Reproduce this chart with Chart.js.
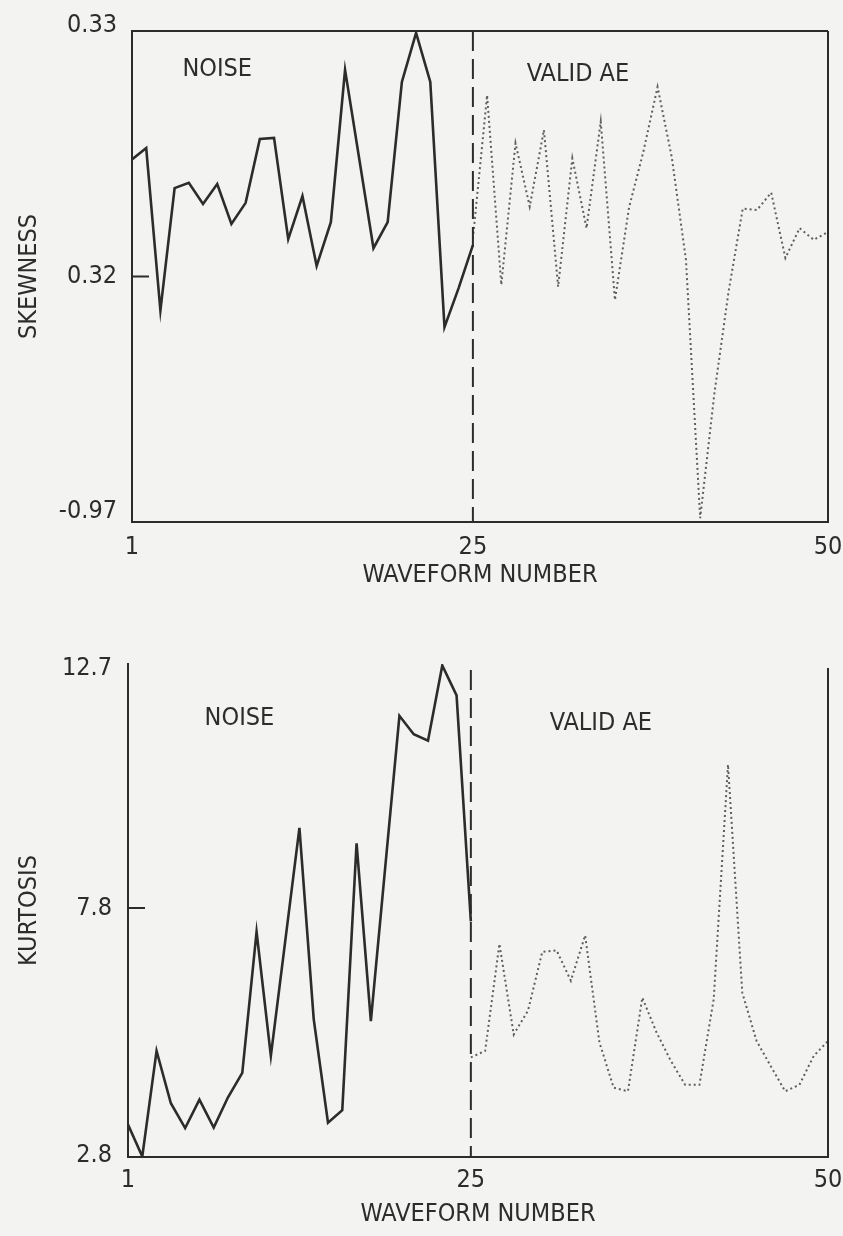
<!DOCTYPE html>
<html>
<head>
<meta charset="utf-8">
<script src="https://cdn.jsdelivr.net/npm/chart.js@4.4.1/dist/chart.umd.min.js"></script>
<style>
  html, body { margin: 0; padding: 0; background: #f3f3f1; }
  #wrap { position: relative; width: 843px; height: 1236px; overflow: hidden; }
  canvas { position: absolute; left: 0; }
  #skewChart { top: 0; }
  #kurtChart { top: 600px; }
</style>
</head>
<body>
<div id="wrap">
  <canvas id="skewChart" width="843" height="600"></canvas>
  <canvas id="kurtChart" width="843" height="636"></canvas>
</div>
<script>
// waveform numbers
const noiseWaveforms = [1, 2, 3, 4, 5, 6, 7, 8, 9, 10, 11, 12, 13, 14, 15, 16, 17, 18, 19, 20, 21, 22, 23, 24, 25];
const validWaveforms = [25, 26, 27, 28, 29, 30, 31, 32, 33, 34, 35, 36, 37, 38, 39, 40, 41, 42, 43, 44, 45, 46, 47, 48, 49, 50];

// skewness (scale runs -0.97 .. 0.33)
const skewNoise = [-0.01, 0.02, -0.41, -0.086, -0.072, -0.128, -0.075, -0.181, -0.125, 0.044, 0.047, -0.221, -0.107,
                   -0.292, -0.176, 0.227, -0.009, -0.245, -0.176, 0.195, 0.325, 0.195, -0.454, -0.35, -0.237];
const skewValid = [-0.22, 0.16, -0.342, 0.033, -0.135, 0.068, -0.347, -0.007, -0.192, 0.09, -0.382, -0.136, 0.01,
                   0.182, -0.004, -0.276, -0.96, -0.63, -0.36, -0.14, -0.144, -0.098, -0.271, -0.192, -0.223, -0.202];

// kurtosis
const kurtNoise = [3.45, 2.81, 4.93, 3.88, 3.38, 3.95, 3.39, 4.0, 4.49, 7.32, 4.83, 7.12, 9.41,
                   5.57, 3.49, 3.74, 9.1, 5.53, 8.6, 11.66, 11.29, 11.16, 12.67, 12.07, 7.53];
const kurtValid = [4.8, 4.93, 7.08, 5.26, 5.74, 6.92, 6.95, 6.34, 7.25, 5.1, 4.19, 4.12, 6.0,
                   5.3, 4.73, 4.25, 4.25, 5.97, 10.68, 6.1, 5.13, 4.62, 4.12, 4.25, 4.83, 5.13];

// axis ticks
const xTicks = [1, 25, 50];
const skewTicks = [0.33, -0.32, -0.97];
const skewTickLabels = ['0.33', '0.32', '-0.97'];
const kurtTicks = [12.7, 7.8, 2.8];
const kurtTickLabels = ['12.7', '7.8', '2.8'];
const boundary = 25;

const INK = '#2c2c2c';
const FONT = "'DejaVu Sans Condensed', 'Liberation Sans Narrow', 'DejaVu Sans', sans-serif";

const pairs = (xs, ys) => xs.map((x, i) => ({x: x, y: ys[i]}));

// frame, boundary line, y labels and region notes
const decor = {
  id: 'decor',
  afterDatasetsDraw(chart, args, o) {
    const {ctx, chartArea: a} = chart;
    const x = chart.scales.x, y = chart.scales.y;
    ctx.save();
    ctx.strokeStyle = INK;
    ctx.lineWidth = 2;
    ctx.beginPath();
    if (o.boxTop) {
      ctx.moveTo(a.left, a.top);
      ctx.lineTo(a.right, a.top);
    }
    ctx.moveTo(a.right, a.top + (o.boxTop ? 0 : 4));
    ctx.lineTo(a.right, a.bottom);
    // short inward tick on middle value
    const ym = y.getPixelForValue(o.ticks[1]);
    ctx.moveTo(a.left, ym);
    ctx.lineTo(a.left + 17, ym);
    ctx.stroke();

    const bx = x.getPixelForValue(boundary);
    ctx.setLineDash([20, 8]);
    ctx.beginPath();
    ctx.moveTo(bx, a.top + (o.boxTop ? 0 : 6));
    ctx.lineTo(bx, a.bottom);
    ctx.stroke();
    ctx.setLineDash([]);

    ctx.fillStyle = INK;
    ctx.font = '25px ' + FONT;
    ctx.textAlign = 'right';
    ctx.textBaseline = 'middle';
    o.ticks.forEach((v, i) => {
      ctx.fillText(o.labels[i], a.left - o.labelGap, y.getPixelForValue(v) + o.labelShift[i]);
    });
    ctx.textAlign = 'center';
    o.notes.forEach(n => {
      ctx.fillText(n.text, x.getPixelForValue(n.x), y.getPixelForValue(n.y));
    });
    ctx.restore();
  }
};

function makeChart(id, noise, valid, ymin, ymax, yTitle, geo, decorOpts) {
  return new Chart(document.getElementById(id), {
    type: 'line',
    data: {
      datasets: [{
        data: pairs(noiseWaveforms, noise),
        borderColor: INK,
        borderWidth: 2.6,
        pointRadius: 0,
        tension: 0
      }, {
        data: pairs(validWaveforms, valid),
        borderColor: '#5e5e5e',
        borderWidth: 2,
        borderDash: [2, 3],
        pointRadius: 0,
        tension: 0
      }]
    },
    options: {
      responsive: false,
      animation: false,
      layout: { padding: { top: geo.top, right: 15, left: 0, bottom: 0 } },
      plugins: { legend: { display: false }, tooltip: { enabled: false }, decor: decorOpts },
      scales: {
        x: {
          type: 'linear',
          min: 1, max: 50,
          afterBuildTicks: s => { s.ticks = xTicks.map(v => ({value: v})); },
          afterFit: s => { s.height = geo.xHeight; s.paddingLeft = 0; s.paddingRight = 0; },
          grid: { display: false, drawTicks: false },
          border: { display: true, color: INK, width: 2 },
          ticks: { color: INK, font: { family: FONT, size: 25 }, padding: geo.xPad, maxRotation: 0, autoSkip: false,
                   callback: v => String(v) },
          title: { display: true, text: 'WAVEFORM NUMBER', color: INK, font: { family: FONT, size: 25 },
                   padding: { top: 0, bottom: geo.titlePad } }
        },
        y: {
          min: ymin, max: ymax,
          afterFit: s => { s.width = geo.left; },
          grid: { display: false, drawTicks: false },
          border: { display: true, color: INK, width: 2 },
          ticks: { display: false },
          title: { display: true, text: yTitle, color: INK, font: { family: FONT, size: 25 },
                   padding: { top: 14, bottom: 0 } }
        }
      }
    },
    plugins: [decor]
  });
}

makeChart('skewChart', skewNoise, skewValid, -0.97, 0.33, 'SKEWNESS',
  { top: 31, left: 132, xHeight: 78, xPad: 10, titlePad: 10 },
  { boxTop: true, ticks: skewTicks, labels: skewTickLabels, labelGap: 15, labelShift: [-6, 0, -11],
    notes: [{ text: 'NOISE', x: 7.0, y: 0.227 }, { text: 'VALID AE', x: 32.4, y: 0.216 }] });

makeChart('kurtChart', kurtNoise, kurtValid, 2.8, 12.7, 'KURTOSIS',
  { top: 64, left: 128, xHeight: 79, xPad: 8, titlePad: 7 },
  { boxTop: false, ticks: kurtTicks, labels: kurtTickLabels, labelGap: 16, labelShift: [4, 0, -2],
    notes: [{ text: 'NOISE', x: 8.8, y: 11.6 }, { text: 'VALID AE', x: 34.1, y: 11.5 }] });
</script>
</body>
</html>
